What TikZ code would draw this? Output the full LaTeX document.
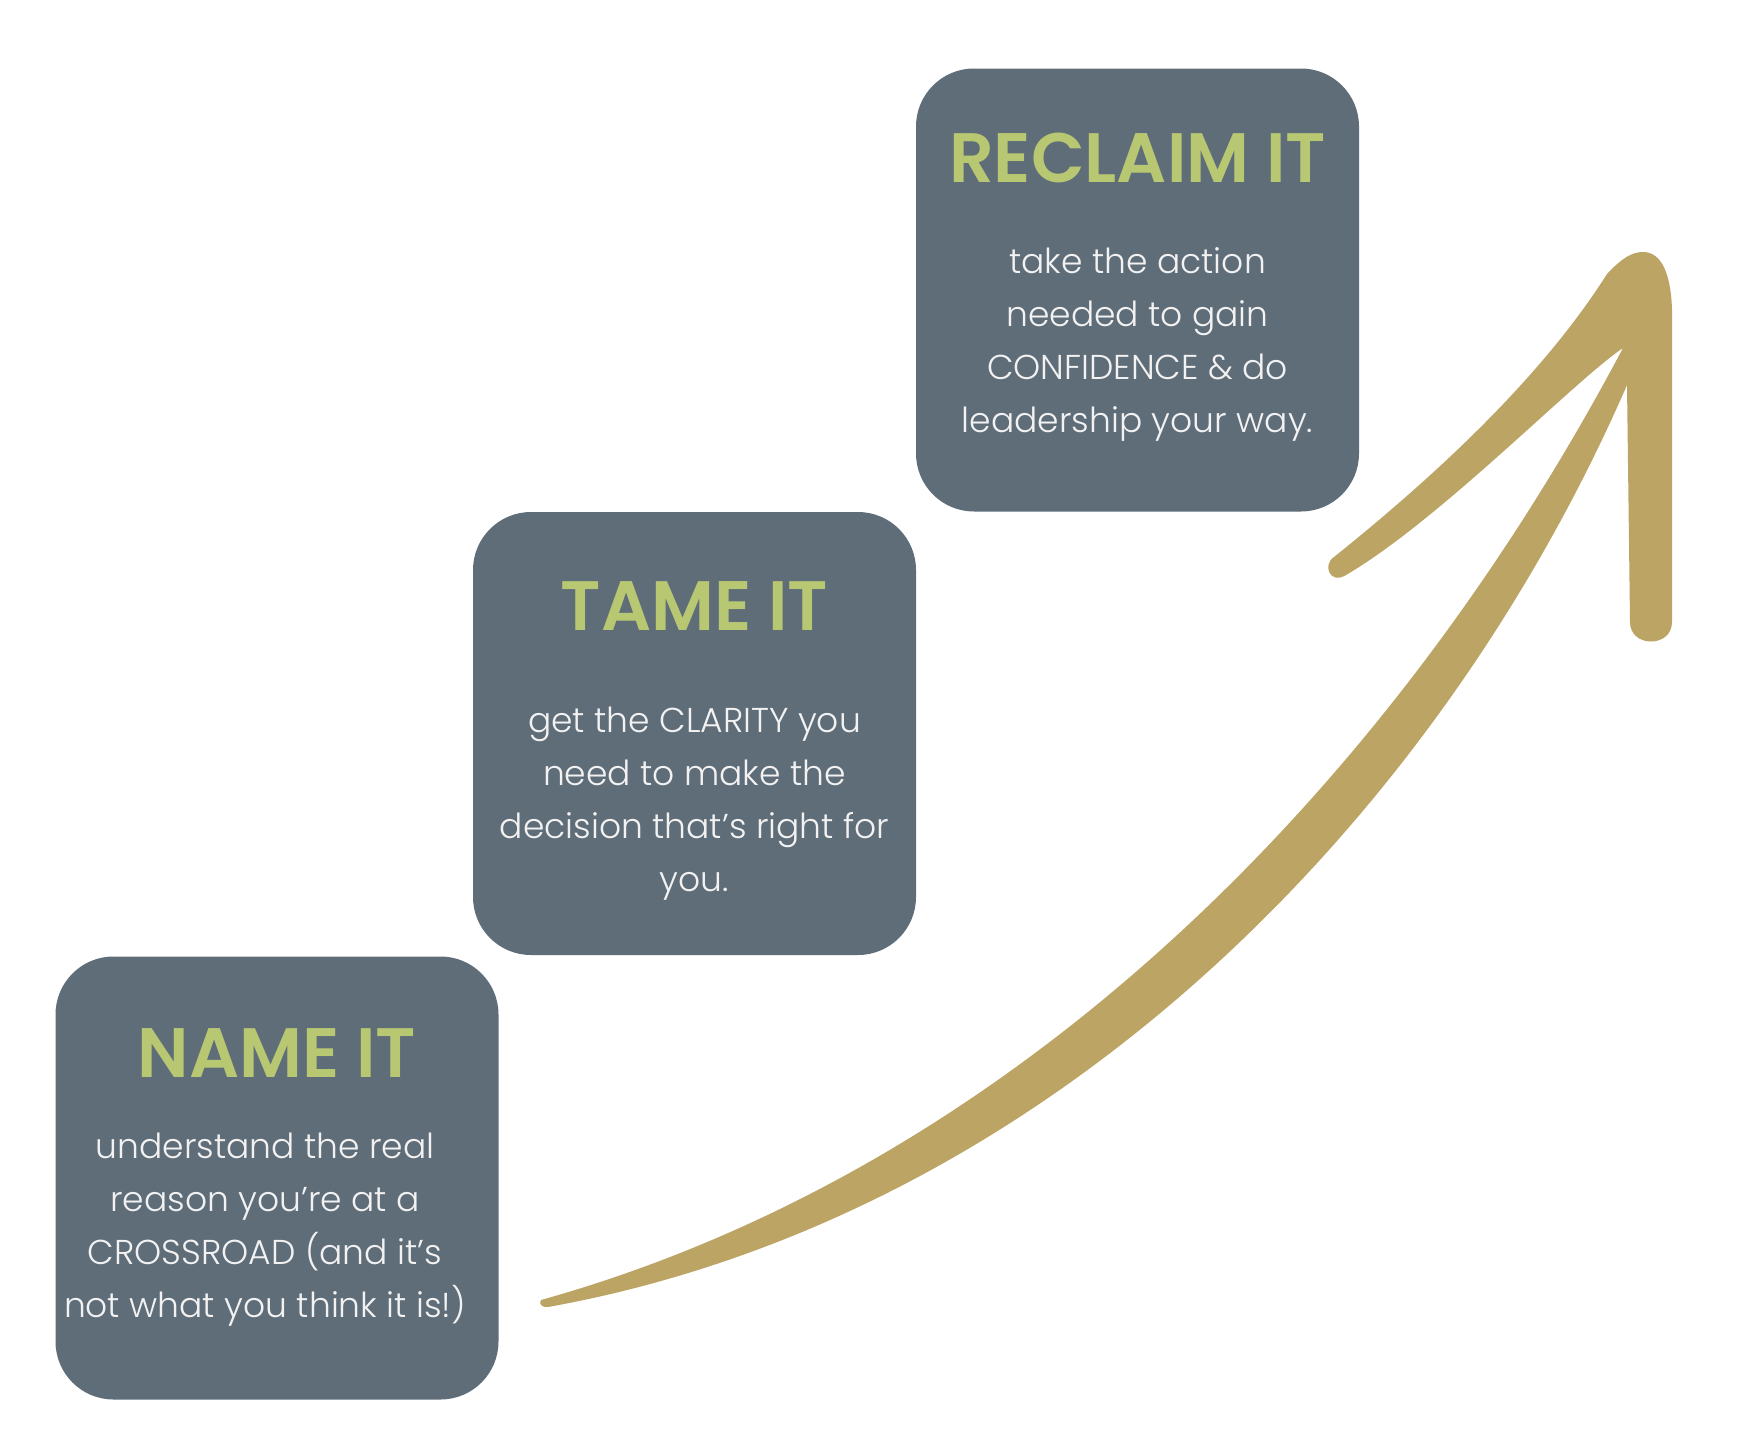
\documentclass[tikz,border=0pt]{standalone}
\usepackage{fontspec}
\IfFontExistsTF{Poppins SemiBold}
  {\setmainfont{Poppins}[UprightFont=* Light,BoldFont=* SemiBold]}
  {\setmainfont{Poppins}[UprightFont=* Light,BoldFont=* Bold]}
\usepackage{tikz}
\definecolor{grisCaja}{HTML}{5F6D79}
\definecolor{verdeT}{HTML}{B8C772}
\definecolor{doradoF}{HTML}{BCA464}
\definecolor{blancoT}{HTML}{F2F2F2}
\tikzset{
  caja/.style={fill=grisCaja,rounded corners=58pt,minimum width=443pt,minimum height=443pt,inner sep=0pt},
  titulo/.style={text=verdeT,font=\fontsize{70}{72}\selectfont\bfseries,anchor=base,inner sep=0pt},
  texto/.style={text=blancoT,font=\fontsize{34.5}{53}\selectfont,align=center,anchor=north,inner sep=0pt}
}

\begin{document}
\begin{tikzpicture}[x=1pt,y=-1pt]
      \useasboundingbox[fill=white] (0,0) rectangle (1757,1440);
      % cajas
      \node[caja] (nameBox)    at (277,1178)    {};
      \node[caja] (tameBox)    at (694.5,733.5) {};
      \node[caja] (reclaimBox) at (1137.5,290)  {};
      \node[titulo] (nameT)    at (277,1077)  {NAME IT};
      \node[titulo] (tameT)    at (694.5,630) {TAME IT};
      \node[titulo] (reclaimT) at (1137.5,182) {RECLAIM IT};
      \node[texto] (nameX)    at (265,1133)   {understand the real\\reason you’re at a\\CROSSROAD (and it’s\\not what you think it is!)};
      \node[texto] (tameX)    at (694.5,707)  {get the CLARITY you\\need to make the\\decision that’s right for\\you.};
      \node[texto] (reclaimX) at (1137.5,247) {take the action\\needed to gain\\CONFIDENCE \& do\\leadership your way.};
      % flecha
      \coordinate (cola)  at (541,1300);
      \coordinate (punta) at (1643,252);
      \fill[doradoF] (cola)
        .. controls (1013.5,1167.9) and (1389.1,790.1) .. (1623,348)                 % borde superior
        .. controls (1575,380) and (1440,520) .. (1346,575)                          % ala izquierda abajo
        .. controls (1330,585) and (1322,565) .. (1334,557)
        .. controls (1430,480) and (1540,380) .. (1607,274)                          % ala izquierda arriba
        .. controls (1622,258) and (1632,252) .. (punta)
        .. controls (1662,252) and (1671,275) .. (1672,310)
        -- (1672,622) .. controls (1672,648) and (1630,648) .. (1630,622)            % ala derecha
        -- (1627,385)
        .. controls (1434.9,825.9) and (1042.5,1218.1) .. (548,1307)                 % borde inferior
        .. controls (543,1308) and (538,1304) .. (cola) -- cycle;
    \end{tikzpicture}
\end{document}
